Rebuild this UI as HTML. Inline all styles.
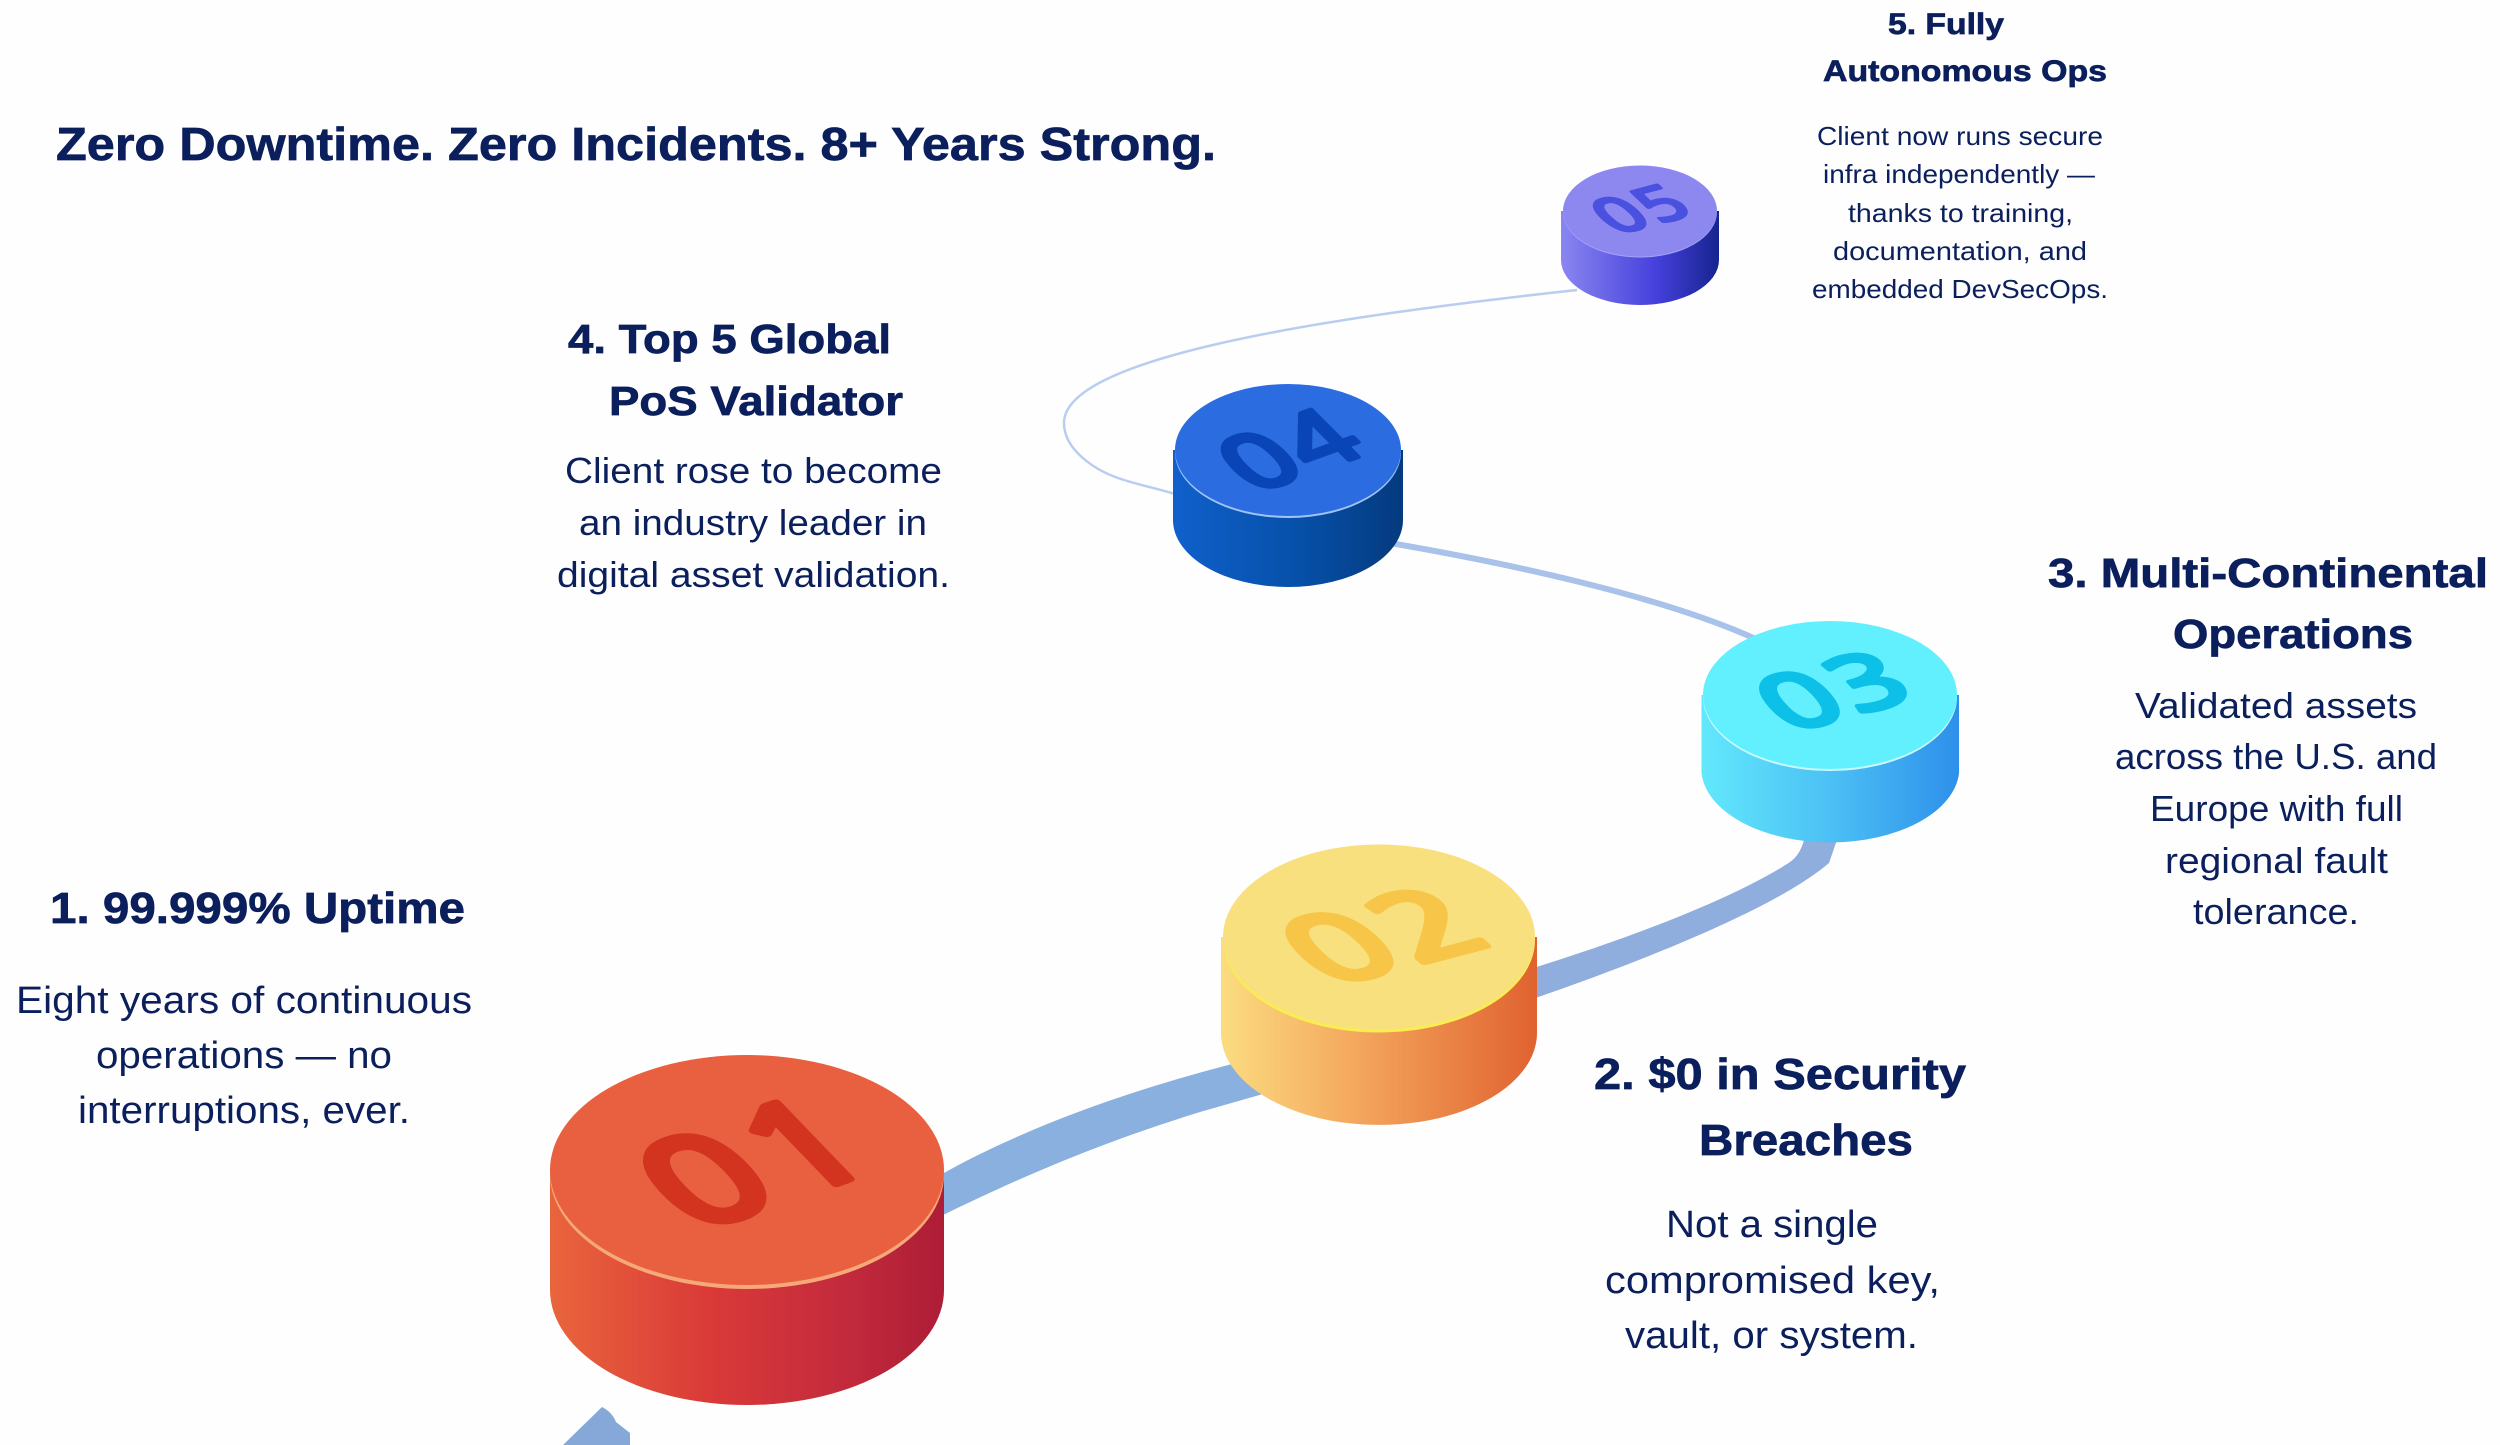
<!DOCTYPE html>
<html lang="en">
<head>
<meta charset="utf-8">
<title>Zero Downtime. Zero Incidents. 8+ Years Strong.</title>
<style>
html,body{margin:0;padding:0;background:#fefefe;width:2500px;height:1445px;overflow:hidden}
svg{display:block}
text{font-family:"Liberation Sans",sans-serif;fill:#0a1f5c}
.h{font-weight:700;stroke:#0a1f5c;stroke-width:.7px}
.n{font-family:"NanumGothic","Liberation Sans",sans-serif;font-weight:700;font-size:100px;text-anchor:middle;stroke-width:3px}
</style>
</head>
<body>
<svg width="2500" height="1445" viewBox="0 0 2500 1445">
<defs>
<linearGradient id="g1" x1="0" x2="1" y1="0" y2="0"><stop offset="0" stop-color="#e9653c"/><stop offset=".4" stop-color="#da3a38"/><stop offset=".75" stop-color="#c32a3c"/><stop offset="1" stop-color="#ad1d36"/></linearGradient>
<linearGradient id="g2" x1="0" x2="1" y1="0" y2="0"><stop offset="0" stop-color="#fbdc80"/><stop offset=".45" stop-color="#f3a45c"/><stop offset="1" stop-color="#e0622f"/></linearGradient>
<linearGradient id="g3" x1="0" x2="1" y1="0" y2="0"><stop offset="0" stop-color="#62e8fc"/><stop offset=".5" stop-color="#4cc0f4"/><stop offset="1" stop-color="#2e90ea"/></linearGradient>
<linearGradient id="g4" x1="0" x2="1" y1="0" y2="0"><stop offset="0" stop-color="#1060cc"/><stop offset=".55" stop-color="#0650a8"/><stop offset="1" stop-color="#053a7e"/></linearGradient>
<linearGradient id="g5" x1="0" x2="1" y1="0" y2="0"><stop offset="0" stop-color="#8a86f0"/><stop offset=".6" stop-color="#4540dc"/><stop offset="1" stop-color="#17248f"/></linearGradient>
</defs>

<!-- connectors -->
<path d="M563 1445 L602 1407 Q612 1412 616 1422 L630 1433 L630 1445 Z" fill="#86a8d8"/>
<path d="M935 1178 C1010 1135 1110 1095 1240 1062 L1270 1092 L1200 1112 C1110 1140 1030 1172 935 1219 Z" fill="#8ab0e0"/>
<path d="M1530 969 C1640 935 1740 895 1790 862 Q1800 855 1804 840 L1837 840 L1829 863 C1780 905 1660 955 1530 1000 Z" fill="#90aedd"/>
<path d="M1390 543 C1500 562 1660 595 1758 640" fill="none" stroke="#a9c2ea" stroke-width="6"/>
<path d="M1577 290 C1300 320 1064 360 1064 423 C1064 450 1095 470 1118 478 C1135 484 1155 488 1175 494" fill="none" stroke="#b8cdef" stroke-width="2.5"/>

<!-- cylinder 01 -->
<path d="M550 1170 L550 1290 A197 115 0 0 0 944 1290 L944 1170 Z" fill="url(#g1)"/>
<ellipse cx="747" cy="1174" rx="197" ry="115" fill="#f5a878"/>
<ellipse cx="747" cy="1170" rx="197" ry="115" fill="#e8603f"/>
<text class="n" transform="matrix(1.62 -.57 1 1.04 791 1201)" style="fill:#d2341f;stroke:#d2341f">01</text>

<!-- cylinder 02 -->
<path d="M1221 937 L1221 1033 A158 92 0 0 0 1537 1033 L1537 937 Z" fill="url(#g2)"/>
<ellipse cx="1379" cy="940" rx="156" ry="92.5" fill="#f8ee50"/>
<ellipse cx="1379" cy="937" rx="156" ry="92.5" fill="#f9e07f"/>
<text class="n" transform="matrix(1.44 -.38 .86 .81 1415 966)" style="fill:#f7c548;stroke:#f7c548">02</text>

<!-- cylinder 03 -->
<path d="M1701.5 695 L1701.5 773 A129 74 0 0 0 1959 773 L1959 695 Z" fill="url(#g3)"/>
<ellipse cx="1830" cy="697" rx="127" ry="74" fill="#c8fbff"/>
<ellipse cx="1830" cy="695" rx="127" ry="74" fill="#62f0fe"/>
<text class="n" transform="matrix(1.12 -.31 .61 .67 1856 716)" style="fill:#0cc0e8;stroke:#0cc0e8">03</text>

<!-- cylinder 04 -->
<path d="M1173 450 L1173 520 A115 67 0 0 0 1403 520 L1403 450 Z" fill="url(#g4)"/>
<ellipse cx="1288" cy="452" rx="113" ry="66" fill="#a0c4f8"/>
<ellipse cx="1288" cy="450" rx="113" ry="66" fill="#2b6de0"/>
<text class="n" transform="matrix(.99 -.36 .64 .64 1313 474)" style="fill:#0a45b8;stroke:#0a45b8">04</text>

<!-- cylinder 05 -->
<path d="M1561 211 L1561 260 A79 45 0 0 0 1719 260 L1719 211 Z" fill="url(#g5)"/>
<ellipse cx="1640" cy="212" rx="77" ry="45.5" fill="#a8a4f6"/>
<ellipse cx="1640" cy="211" rx="77" ry="45.5" fill="#8c88f0"/>
<text class="n" transform="matrix(.68 -.18 .45 .42 1657 225)" style="fill:#4a50e0;stroke:#4a50e0">05</text>

<!-- title -->
<text class="h" x="56" y="160" font-size="46" textLength="1160" lengthAdjust="spacingAndGlyphs">Zero Downtime. Zero Incidents. 8+ Years Strong.</text>

<!-- block 5 -->
<text class="h" x="1888" y="34" font-size="30" textLength="116" lengthAdjust="spacingAndGlyphs">5. Fully</text>
<text class="h" x="1823" y="81" font-size="30" textLength="284" lengthAdjust="spacingAndGlyphs">Autonomous Ops</text>
<text x="1817" y="145" font-size="26" textLength="286" lengthAdjust="spacingAndGlyphs">Client now runs secure</text>
<text x="1823" y="183" font-size="26" textLength="272" lengthAdjust="spacingAndGlyphs">infra independently —</text>
<text x="1848" y="222" font-size="26" textLength="225" lengthAdjust="spacingAndGlyphs">thanks to training,</text>
<text x="1833" y="260" font-size="26" textLength="254" lengthAdjust="spacingAndGlyphs">documentation, and</text>
<text x="1812" y="298" font-size="26" textLength="296" lengthAdjust="spacingAndGlyphs">embedded DevSecOps.</text>

<!-- block 4 -->
<text class="h" x="568" y="353" font-size="41" textLength="323" lengthAdjust="spacingAndGlyphs">4. Top 5 Global</text>
<text class="h" x="609" y="415" font-size="41" textLength="294" lengthAdjust="spacingAndGlyphs">PoS Validator</text>
<text x="565" y="483" font-size="36" textLength="377" lengthAdjust="spacingAndGlyphs">Client rose to become</text>
<text x="579" y="535" font-size="36" textLength="348" lengthAdjust="spacingAndGlyphs">an industry leader in</text>
<text x="557" y="587" font-size="36" textLength="393" lengthAdjust="spacingAndGlyphs">digital asset validation.</text>

<!-- block 3 -->
<text class="h" x="2048" y="587" font-size="41" textLength="440" lengthAdjust="spacingAndGlyphs">3. Multi-Continental</text>
<text class="h" x="2173" y="648" font-size="41" textLength="240" lengthAdjust="spacingAndGlyphs">Operations</text>
<text x="2135" y="718" font-size="36" textLength="282" lengthAdjust="spacingAndGlyphs">Validated assets</text>
<text x="2115" y="769" font-size="36" textLength="322" lengthAdjust="spacingAndGlyphs">across the U.S. and</text>
<text x="2150" y="821" font-size="36" textLength="253" lengthAdjust="spacingAndGlyphs">Europe with full</text>
<text x="2165" y="873" font-size="36" textLength="223" lengthAdjust="spacingAndGlyphs">regional fault</text>
<text x="2193" y="924" font-size="36" textLength="166" lengthAdjust="spacingAndGlyphs">tolerance.</text>

<!-- block 2 -->
<text class="h" x="1594" y="1089" font-size="44" textLength="372" lengthAdjust="spacingAndGlyphs">2. $0 in Security</text>
<text class="h" x="1699" y="1155" font-size="44" textLength="214" lengthAdjust="spacingAndGlyphs">Breaches</text>
<text x="1666" y="1237" font-size="38" textLength="212" lengthAdjust="spacingAndGlyphs">Not a single</text>
<text x="1605" y="1293" font-size="38" textLength="335" lengthAdjust="spacingAndGlyphs">compromised key,</text>
<text x="1625" y="1348" font-size="38" textLength="293" lengthAdjust="spacingAndGlyphs">vault, or system.</text>

<!-- block 1 -->
<text class="h" x="50" y="923" font-size="44" textLength="415" lengthAdjust="spacingAndGlyphs">1. 99.999% Uptime</text>
<text x="16" y="1013" font-size="38" textLength="456" lengthAdjust="spacingAndGlyphs">Eight years of continuous</text>
<text x="96" y="1068" font-size="38" textLength="296" lengthAdjust="spacingAndGlyphs">operations — no</text>
<text x="78" y="1123" font-size="38" textLength="332" lengthAdjust="spacingAndGlyphs">interruptions, ever.</text>
</svg>
</body>
</html>
